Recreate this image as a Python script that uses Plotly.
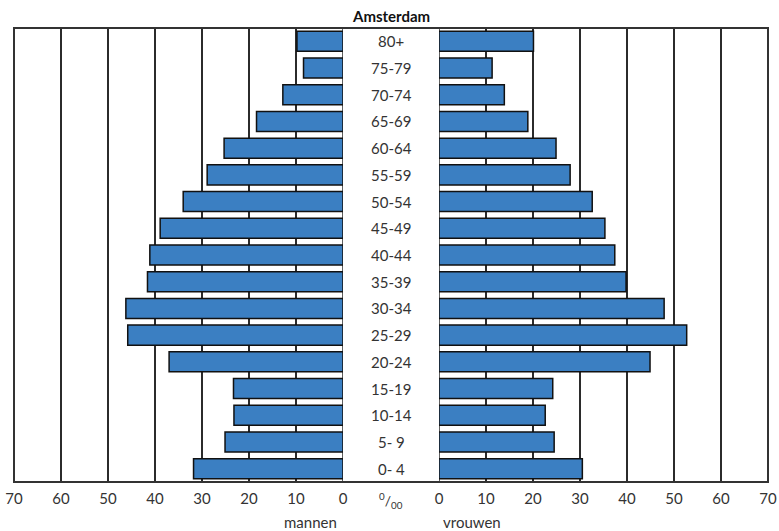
import plotly.graph_objects as go

ages = ["0- 4", "5- 9", "10-14", "15-19", "20-24", "25-29", "30-34", "35-39",
        "40-44", "45-49", "50-54", "55-59", "60-64", "65-69", "70-74", "75-79", "80+"]
mannen = [31.8, 25.1, 23.2, 23.3, 37.0, 45.8, 46.2, 41.6,
          41.1, 38.9, 34.0, 28.9, 25.3, 18.4, 12.8, 8.4, 9.8]
vrouwen = [30.5, 24.5, 22.6, 24.2, 44.9, 52.7, 47.9, 39.8,
           37.4, 35.3, 32.6, 27.9, 24.9, 18.9, 13.9, 11.3, 20.1]
tickvals = [0, 10, 20, 30, 40, 50, 60, 70]
title = "Amsterdam"

FONT = "Lato"
BAR = "#3b7fc2"
GRID = "#2b2b2b"

fig = go.Figure()
fig.add_trace(go.Bar(y=ages, x=mannen, orientation="h", xaxis="x", yaxis="y",
                     width=0.75, marker=dict(color=BAR, line=dict(color="#111", width=1.5)),
                     showlegend=False, hoverinfo="x+y"))
fig.add_trace(go.Bar(y=ages, x=vrouwen, orientation="h", xaxis="x2", yaxis="y",
                     width=0.75, marker=dict(color=BAR, line=dict(color="#111", width=1.5)),
                     showlegend=False, hoverinfo="x+y"))

axcommon = dict(tickvals=tickvals, ticktext=[str(v) for v in tickvals], showgrid=True,
                gridcolor=GRID, gridwidth=1.5, zeroline=False, showline=False, ticks="",
                automargin=False, ticklabelstandoff=6, ticklabeloverflow="allow",
                tickfont=dict(family=FONT, size=15, color="#333"), fixedrange=True)

fig.update_layout(
    width=779, height=531,
    margin=dict(l=14, r=11, t=28, b=49, autoexpand=False),
    paper_bgcolor="white", plot_bgcolor="white",
    xaxis=dict(domain=[0, 329/754], range=[70, 0], anchor="y", **axcommon),
    xaxis2=dict(domain=[425/754, 1], range=[0, 70], anchor="y", **axcommon),
    yaxis=dict(categoryorder="array", categoryarray=ages, range=[-0.5, 16.5],
               showticklabels=False, showgrid=False, zeroline=False, ticks="",
               automargin=False, fixedrange=True),
    bargap=0.25,
    font=dict(family=FONT, color="#333"),
    shapes=[
        dict(type="line", xref="x", yref="paper", x0=0, x1=0, y0=0, y1=1,
             line=dict(color=GRID, width=1.5), layer="below"),
        dict(type="line", xref="x2", yref="paper", x0=0, x1=0, y0=0, y1=1,
             line=dict(color=GRID, width=1.5), layer="below"),
        dict(type="rect", xref="paper", yref="paper", x0=0, x1=1, y0=0, y1=1,
             line=dict(color="#333", width=2), layer="above"),
    ],
)

annotations = [dict(text="<b>" + title + "</b>", xref="paper", yref="paper", x=0.5, y=1,
                    yanchor="bottom", yshift=1, showarrow=False,
                    font=dict(family=FONT, size=15, color="#111"))]
for a in ages:
    annotations.append(dict(text=a, xref="paper", yref="y", x=0.5, y=a, showarrow=False,
                            font=dict(family=FONT, size=15, color="#333")))
annotations.append(dict(text="<sup>0</sup>/<sub>00</sub>", xref="paper", yref="paper",
                        x=0.5, y=0, yanchor="top", yshift=-6, showarrow=False,
                        font=dict(family=FONT, size=14, color="#333")))
annotations.append(dict(text="mannen", xref="x", yref="paper", x=7, y=0, yanchor="top",
                        yshift=-29, showarrow=False,
                        font=dict(family=FONT, size=15, color="#333")))
annotations.append(dict(text="vrouwen", xref="x2", yref="paper", x=7, y=0, yanchor="top",
                        yshift=-29, showarrow=False,
                        font=dict(family=FONT, size=15, color="#333")))
fig.update_layout(annotations=annotations)

# remove the default page margin so the 779x531 figure fills the window exactly
fig.write_html("out.html", config={"displayModeBar": False},
               post_script="document.body.style.margin='0px';")
